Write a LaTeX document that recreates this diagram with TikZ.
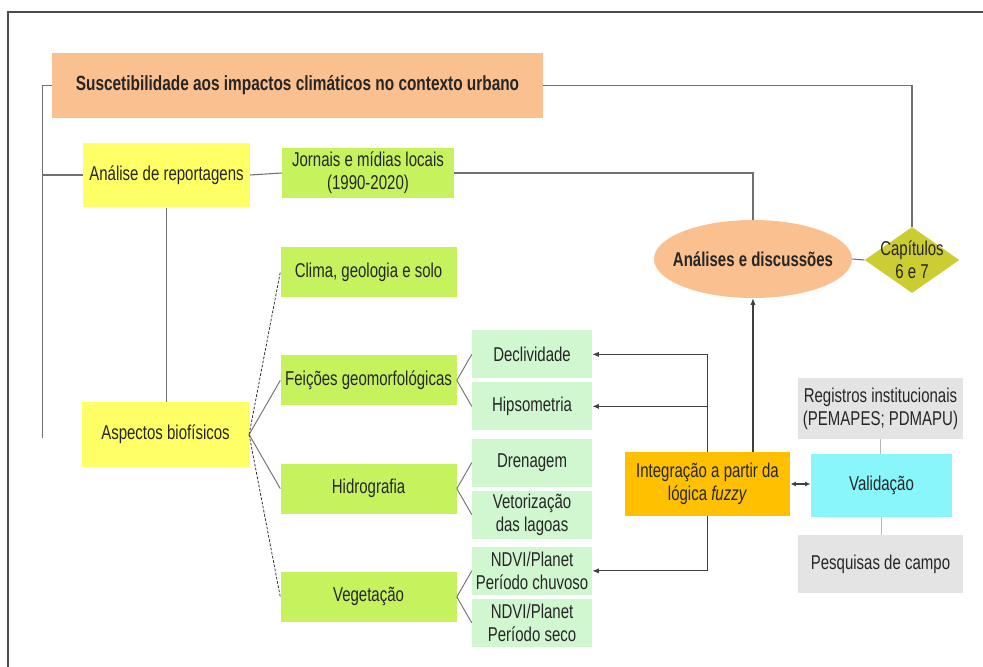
\documentclass[tikz,border=0pt]{standalone}
\usepackage{fontspec}
\setmainfont{Liberation Sans}[FakeStretch=0.75]
\usetikzlibrary{shapes.geometric,arrows.meta}

\definecolor{sustcol}{RGB}{250,192,144}
\definecolor{reportcol}{RGB}{255,255,102}
\definecolor{lvlonecol}{RGB}{198,242,94}
\definecolor{lvltwocol}{RGB}{208,247,208}
\definecolor{capcol}{RGB}{204,204,51}
\definecolor{fuzzycol}{RGB}{255,192,0}
\definecolor{validcol}{RGB}{136,246,250}
\definecolor{regcol}{RGB}{228,228,228}
\definecolor{linecol}{RGB}{112,112,112}

\begin{document}
\begin{tikzpicture}
[x=0.75pt,y=-0.75pt,
every node/.style={font=\fontsize{15}{17.5}\selectfont,text=black!85,align=center,inner sep=2pt},
titlebox/.style={fill=sustcol,minimum width=368pt,minimum height=49pt,font=\fontsize{15.4}{18}\selectfont\bfseries},
reportbox/.style={fill=reportcol,minimum width=125pt,minimum height=48.5pt},
mediabox/.style={fill=lvlonecol,minimum width=129pt,minimum height=37.5pt},
discbox/.style={ellipse,fill=sustcol,minimum width=148.5pt,minimum height=58.5pt,inner sep=0pt},
capbox/.style={diamond,fill=capcol,minimum width=71pt,minimum height=49.5pt,inner sep=0pt},
fuzzybox/.style={fill=fuzzycol,minimum width=124pt,minimum height=48pt},
validbox/.style={fill=validcol,minimum width=106pt,minimum height=47pt},
sourcebox/.style={fill=regcol,minimum width=124pt,minimum height=#1},
frame/.style={draw=black!70,line width=1.5pt},
link/.style={draw=linecol,line width=0.8pt},
softlink/.style={draw=linecol!50,line width=0.8pt},
arr/.style={draw=black!75,line width=0.8pt,-{Latex[length=5pt,width=4pt]}},
dblarr/.style={draw=black!75,line width=0.8pt,{Latex[length=4pt,width=3.5pt]}-{Latex[length=4pt,width=3.5pt]}},
dashedge/.style={draw=black!80,line width=0.6pt,dash pattern=on 2pt off 1.2pt},
plainedge/.style={draw=linecol,line width=0.7pt,solid},
parent anchor=east,child anchor=west,
edge from parent/.style={draw=linecol,line width=0.7pt},
level 1/.style={level distance=152.3pt,sibling distance=81.2pt,
	nodes={fill=lvlonecol,minimum width=132pt,minimum height=37.5pt}},
level 2/.style={level distance=122.6pt,sibling distance=39pt,
	nodes={fill=lvltwocol,minimum width=90pt,minimum height=36pt}}]

\useasboundingbox (0,0) rectangle (983,667);
\draw[frame] (8,667) -- (8,12) -- (983,12);

\node[titlebox] (title) at (297.5,85.5) {Suscetibilidade aos impactos climáticos no contexto urbano};
\node[reportbox] (analise) at (166.5,175) {Análise de reportagens};
\node[mediabox] (jornais) at (368,173) {Jornais e mídias locais\\(1990-2020)};

\node[discbox] (elipse) at (753,259) {};
\node[font=\fontsize{15}{17.5}\selectfont\bfseries] (discusstxt) at (elipse) {Análises e discussões};
\node[capbox] (capit) at (912,260) {};
\node (capittxt) at (capit) {Capítulos\\6 e 7};

\node[reportbox] (aspectos) at (165.5,434.5) {Aspectos biofísicos} [grow'=right]
child {
	node (clima) {Clima, geologia e solo}
	edge from parent[dashedge]
}
child {
	node (feicoes) {Feições geomorfológicas}
	child {
		node (decliv) {Declividade}
	}
	child {
		node (hipso) {Hipsometria}
	}
}
child {
	node (hidro) {Hidrografia}
	child {
		node (drenag) {Drenagem}
	}
	child {
		node (vetor) {Vetorização\\das lagoas}
	}
}
child {
	node (veget) {Vegetação}
	child {
		node (ndvic) {NDVI/Planet\\Período chuvoso}
		edge from parent[plainedge]
	}
	child {
		node (ndvis) {NDVI/Planet\\Período seco}
		edge from parent[plainedge]
	}
	edge from parent[dashedge]
};

\node[fuzzybox] (integ) at (707.5,484) {Integração a partir da\\lógica \textit{fuzzy}};
\node[validbox] (valid) at (881.5,485.5) {Validação};
\node[sourcebox=46pt] (regist) at (880.5,408.5) {Registros institucionais\\(PEMAPES; PDMAPU)};
\node[sourcebox=43.5pt] (pesq) at (880.5,564) {Pesquisas de campo};

\coordinate (spinebot) at (42.5,438);
\draw[link] (title.west) -| (spinebot);
\draw[link] (analise.west) -- (analise.west -| spinebot);
\draw[link] (analise.east) -- (jornais.west);
\draw[link] (analise.south) -- (analise.south |- aspectos.north);
\draw[link] (jornais.east) -| (elipse.north);
\draw[link] (title.east) -| (capit.north);
\draw[link] (elipse.east) -- (capit.west);

\draw[arr] (integ.north -| elipse.south) -- (elipse.south);
\draw[arr] (integ.north) |- (decliv.east);
\draw[arr] (integ.north) |- (hipso.east);
\draw[arr] (integ.south) |- (ndvic.east);
\draw[dblarr] (integ.east) -- (integ.east -| valid.west);
\draw[softlink] (regist.south) -- (regist.south |- valid.north);
\draw[softlink] (valid.south) -- (valid.south |- pesq.north);
\end{tikzpicture}
\end{document}
